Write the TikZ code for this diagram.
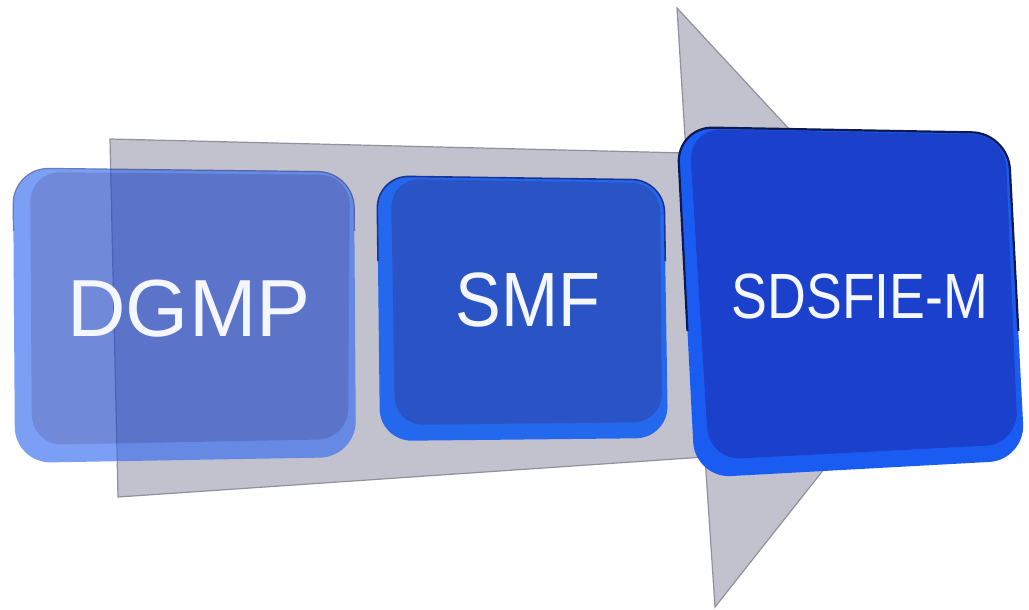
\documentclass[tikz,border=0pt]{standalone}
\usepackage{fontspec}
\setmainfont{Liberation Sans}
\definecolor{arrowgrey}{RGB}{194,193,206}
\definecolor{arrowedge}{RGB}{145,145,158}
\definecolor{dgrim}{RGB}{55,110,240}
\definecolor{dgface}{RGB}{38,76,198}
\definecolor{smrim}{RGB}{36,104,238}
\definecolor{smface}{RGB}{42,84,198}
\definecolor{smedge}{RGB}{26,52,150}
\definecolor{sdrim}{RGB}{26,92,242}
\definecolor{sdface}{RGB}{26,64,204}
\definecolor{sdedge}{RGB}{12,26,80}
\definecolor{labelwhite}{RGB}{244,247,255}
\tikzset{
  arrowbody/.style={fill=arrowgrey, draw=arrowedge, line width=1.2pt, line join=miter},
  boxlabel/.style={text=labelwhite, inner sep=0pt, anchor=center},
}
\begin{document}
\begin{tikzpicture}[x=1pt,y=-1pt]
\useasboundingbox (0,0) rectangle (1029,610);

% grey arrow
\draw[arrowbody] (110,139) -- (686,153) -- (677,8) -- (953,306) -- (715,607) -- (705,457) -- (118,497) -- cycle;

% DGMP box (translucent)
\begin{scope}[transparency group, opacity=0.66]
  \fill[dgrim, rounded corners=36pt] (13,168) -- (354,172) -- (356,457) -- (15,463) -- cycle;
  \fill[dgface, rounded corners=30pt] (30,172) -- (350,175) -- (348,439) -- (32,445) -- cycle;
  \begin{scope}
    \clip (0,150) rectangle (370,230);
    \draw[smedge, line width=1.2pt, rounded corners=36pt] (13,168) -- (354,172) -- (356,457) -- (15,463) -- cycle;
  \end{scope}
\end{scope}
\node[boxlabel, font=\fontsize{81}{81}\selectfont] (dgmp) at (189,309) {DGMP};

% SMF box
\fill[smrim, rounded corners=32pt] (377,176) -- (664,180) -- (668,438) -- (380,441) -- cycle;
\fill[smface, rounded corners=28pt] (391,179) -- (660,183) -- (662,422) -- (395,425) -- cycle;
\begin{scope}
  \clip (360,150) rectangle (700,260);
  \draw[smedge, line width=1.6pt, rounded corners=32pt] (377,176) -- (664,180) -- (668,438) -- (380,441) -- cycle;
\end{scope}
\node[boxlabel, font=\fontsize{77}{77}\selectfont] (smf) at (528,300) {\scalebox{0.89}[1]{SMF}};

% SDSFIE-M box
\fill[sdrim, rounded corners=36pt] (677,127) -- (1008,133) -- (1025,460) -- (695,478) -- cycle;
\fill[sdface, rounded corners=32pt] (689,129) -- (1005,135) -- (1018,444) -- (709,460) -- cycle;
\begin{scope}
  \clip (650,90) rectangle (1029,330);
  \draw[sdedge, line width=2.2pt, rounded corners=36pt] (677,127) -- (1008,133) -- (1025,460) -- (695,478) -- cycle;
\end{scope}
\node[boxlabel, font=\fontsize{64}{64}\selectfont] (sdsfie) at (860,296) {\scalebox{0.84}[1]{SDSFIE-M}};

\end{tikzpicture}
\end{document}
